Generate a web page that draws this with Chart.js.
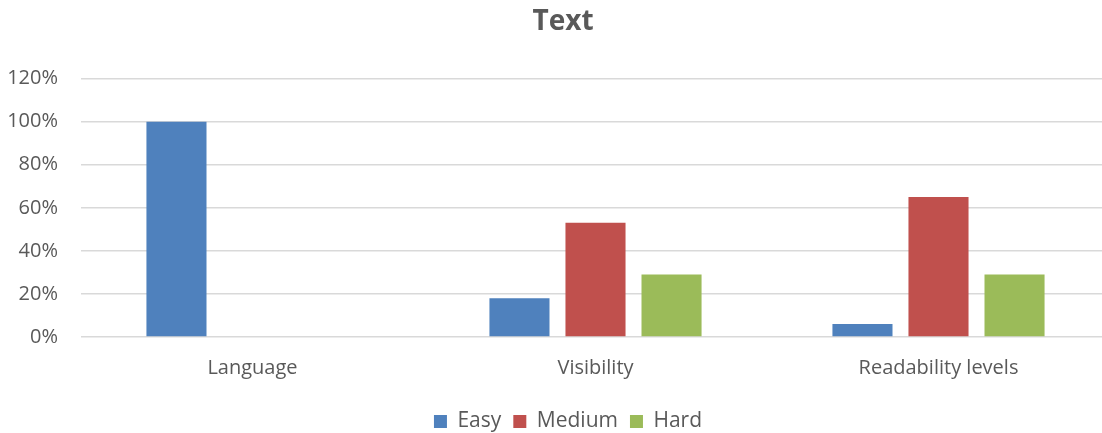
<!DOCTYPE html>
<html>
<head>
<meta charset="utf-8">
<script src="https://cdn.jsdelivr.net/npm/chart.js@4/dist/chart.umd.min.js"></script>
<style>
  html, body { margin: 0; padding: 0; background: #fff; overflow: hidden; }
  #wrap { width: 1102px; height: 433px; overflow: hidden; }
  canvas { display: block; }
</style>
</head>
<body>
<div id="wrap"><canvas id="c" width="1128" height="442"></canvas></div>
<script>
// Categories and survey shares (fractions of respondents)
const categories = ['Language', 'Visibility', 'Readability levels'];
const easy   = [1.00, 0.18, 0.06];
const medium = [0.00, 0.53, 0.65];
const hard   = [0.00, 0.29, 0.29];
const yTicks = [0, 0.2, 0.4, 0.6, 0.8, 1.0, 1.2];

const textColor = '#595959';
const fontFamily = '"Open Sans", "Liberation Sans", sans-serif';

// Centre the title and legend over the whole chart frame rather than
// over the area left of the right padding.
const recentre = {
  id: 'recentre',
  afterLayout(chart) {
    if (chart.titleBlock) chart.titleBlock.left += 16;
    if (chart.legend) chart.legend.left += 26;
  }
};

new Chart(document.getElementById('c'), {
  type: 'bar',
  data: {
    labels: categories,
    datasets: [
      { label: 'Easy',   data: easy,   backgroundColor: '#4F81BD' },
      { label: 'Medium', data: medium, backgroundColor: '#C0504D' },
      { label: 'Hard',   data: hard,   backgroundColor: '#9BBB59' }
    ]
  },
  plugins: [recentre],
  options: {
    responsive: false,
    animation: false,
    layout: { padding: { left: 0, right: 18, top: 0, bottom: 0 } },
    datasets: { bar: { categoryPercentage: 0.665, barPercentage: 0.79, borderWidth: 0 } },
    plugins: {
      title: {
        display: true,
        text: 'Text',
        color: textColor,
        font: { family: fontFamily, size: 28, weight: 'bold' },
        padding: { top: 5, bottom: 40 }
      },
      legend: {
        position: 'bottom',
        labels: {
          color: textColor,
          font: { family: fontFamily, size: 21 },
          boxWidth: 13,
          boxHeight: 13,
          padding: 12
        }
      },
      tooltip: { enabled: false }
    },
    scales: {
      x: {
        grid: { display: false, drawTicks: false },
        border: { display: false },
        ticks: { color: textColor, font: { family: fontFamily, size: 20 }, padding: 19 },
        afterFit: s => { s.height = 62; }
      },
      y: {
        min: 0,
        max: 1.2,
        afterBuildTicks: s => { s.ticks = yTicks.map(v => ({ value: v })); },
        grid: { color: '#D9D9D9', lineWidth: 1.5, drawTicks: false },
        border: { display: false },
        ticks: {
          color: textColor,
          font: { family: fontFamily, size: 20 },
          padding: 23,
          callback: v => Math.round(v * 100) + '%'
        },
        afterFit: s => { s.width = 81; }
      }
    }
  }
});
</script>
</body>
</html>
